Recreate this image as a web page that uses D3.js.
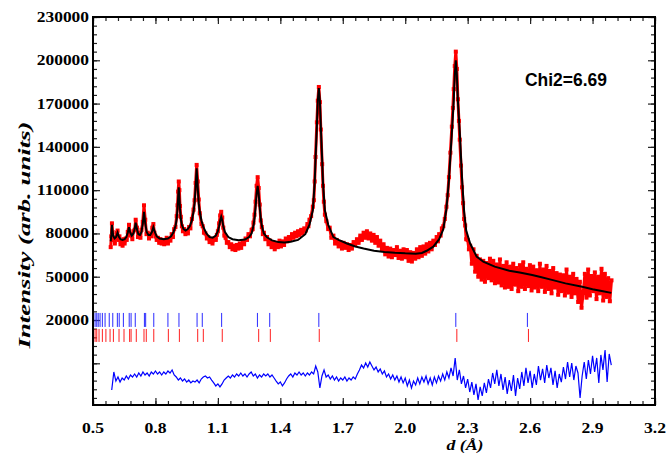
<!DOCTYPE html>
<meta charset="utf-8">
<style>
body { margin: 0; background: #fff; }
.frame { fill: none; stroke: #000; stroke-width: 2px; }
.tick line { stroke: #222; stroke-width: 1.2px; }
.lbl { font-family: "Liberation Serif", "Times New Roman", serif; font-weight: bold; font-size: 14px; fill: #000; }
.ttl { font-family: "Liberation Serif", "Times New Roman", serif; font-weight: bold; font-style: italic; fill: #000; }
.obs { fill: none; stroke: #ff0000; stroke-width: 3px; stroke-linejoin: round; }
.calc { fill: none; stroke: #000; stroke-width: 2px; }
.diff { fill: none; stroke: #0000ff; stroke-width: 1.2px; }
</style>
<body>
<script src="https://d3js.org/d3.v7.min.js"></script>
<script>

// axis ticks and labels
var xTicks = [0.5, 0.8, 1.1, 1.4, 1.7, 2.0, 2.3, 2.6, 2.9, 3.2];
var yTicks = [230000, 200000, 170000, 140000, 110000, 80000, 50000, 20000, -10000];
var yTickLabels = ["230000", "200000", "170000", "140000", "110000", "80000", "50000", "20000"];

// observed intensity [d, I]
var observed = [
  [0.585,70500],[0.588,78000],[0.591,87000],[0.594,81000],[0.600,75500],[0.605,73000],[0.610,76800],[0.615,80500],
  [0.618,82000],[0.622,75500],[0.627,78000],[0.632,72500],[0.637,75000],[0.642,71500],[0.647,76000],[0.652,73000],
  [0.657,76500],[0.662,75500],[0.667,81000],[0.673,86000],[0.678,78500],[0.684,79500],[0.689,76000],[0.694,81500],
  [0.700,82500],[0.705,89500],[0.711,84000],[0.716,77500],[0.722,80500],[0.728,77000],[0.733,82500],[0.739,88000],
  [0.745,99500],[0.751,89500],[0.757,79500],[0.763,80500],[0.769,76500],[0.775,79500],[0.780,78000],[0.785,84000],
  [0.790,86500],[0.795,80500],[0.800,78000],[0.806,75500],[0.812,77000],[0.818,73500],[0.824,76000],[0.830,73000],
  [0.836,75500],[0.842,72500],[0.848,74500],[0.854,77000],[0.860,73000],[0.866,76000],[0.872,75000],[0.878,79500],
  [0.884,77500],[0.890,83000],[0.896,84500],[0.902,92000],[0.906,99500],[0.909,109000],[0.912,116000],[0.915,110000],
  [0.918,99000],[0.922,91500],[0.927,85000],[0.932,81500],[0.938,83000],[0.944,79500],[0.950,81500],[0.956,80000],
  [0.962,84500],[0.968,83500],[0.975,90000],[0.983,96500],[0.988,103000],[0.993,115000],[0.998,127500],[1.003,116000],
  [1.008,103500],[1.013,94000],[1.021,86500],[1.027,85000],[1.033,80500],[1.040,80000],[1.047,76500],[1.054,77500],
  [1.060,74000],[1.067,76000],[1.074,73000],[1.082,76500],[1.090,75500],[1.095,79000],[1.100,81500],[1.106,87000],
  [1.111,92500],[1.116,95000],[1.121,91000],[1.126,84000],[1.131,78500],[1.137,77000],[1.143,73500],[1.150,74000],
  [1.157,70500],[1.164,72500],[1.170,69000],[1.177,71500],[1.184,68500],[1.191,72000],[1.198,69500],[1.205,73000],
  [1.212,70000],[1.219,74000],[1.226,72500],[1.233,76500],[1.240,75500],[1.247,79500],[1.254,78000],[1.262,82500],
  [1.267,83000],[1.271,87500],[1.276,93000],[1.281,102000],[1.286,113000],[1.291,119000],[1.296,111500],[1.301,100000],
  [1.306,89000],[1.311,84500],[1.316,79500],[1.321,80500],[1.328,76000],[1.336,77500],[1.343,72500],[1.351,75000],
  [1.358,70500],[1.366,74000],[1.373,69000],[1.381,73500],[1.388,70500],[1.396,75000],[1.403,71000],[1.411,74500],
  [1.418,72000],[1.426,76500],[1.433,74500],[1.441,77500],[1.448,76000],[1.456,79500],[1.463,77000],[1.471,80500],
  [1.478,78000],[1.485,81500],[1.492,79000],[1.500,82500],[1.507,80000],[1.515,83500],[1.522,82000],[1.530,86500],
  [1.535,85000],[1.540,89500],[1.548,92000],[1.556,98500],[1.561,103000],[1.565,116000],[1.569,133000],[1.5755,157000],
  [1.580,172000],[1.585,181500],[1.590,171000],[1.5945,152000],[1.601,128000],[1.605,113000],[1.609,102000],[1.614,93000],
  [1.621,88500],[1.630,83000],[1.637,84000],[1.645,77000],[1.655,78500],[1.663,73000],[1.671,75500],[1.680,71000],
  [1.688,74000],[1.696,69500],[1.704,73500],[1.712,70000],[1.720,72500],[1.728,68500],[1.736,72000],[1.744,69500],
  [1.752,74000],[1.760,72000],[1.768,76000],[1.776,73500],[1.784,78500],[1.792,75500],[1.800,80500],[1.808,77000],
  [1.816,81500],[1.824,76500],[1.832,80000],[1.840,75000],[1.848,79000],[1.856,73500],[1.864,77500],[1.872,71500],
  [1.880,75000],[1.888,68500],[1.896,72500],[1.904,65500],[1.912,70000],[1.920,64000],[1.928,69500],[1.936,63500],
  [1.944,68500],[1.952,65000],[1.960,70500],[1.968,63000],[1.976,68000],[1.984,62500],[1.992,69000],[2.000,63500],
  [2.008,68500],[2.016,61000],[2.024,67000],[2.032,60500],[2.040,66500],[2.048,62500],[2.056,69000],[2.064,63500],
  [2.072,70500],[2.080,64500],[2.088,71000],[2.096,66000],[2.103,72500],[2.111,67500],[2.119,73500],[2.127,69000],
  [2.135,75000],[2.143,72000],[2.151,77500],[2.157,74500],[2.163,79500],[2.170,78500],[2.176,83500],[2.183,85000],
  [2.190,90000],[2.198,98500],[2.204,106500],[2.210,119000],[2.217,136000],[2.224,154000],[2.229,167000],[2.233,180000],
  [2.238,196000],[2.243,206000],[2.248,194000],[2.253,173000],[2.258,158000],[2.262,145000],[2.268,127000],[2.273,112000],
  [2.278,101000],[2.283,90000],[2.288,85500],[2.293,76000],[2.300,75500],[2.306,69000],[2.312,71500],[2.320,59000],
  [2.328,69000],[2.336,53500],[2.343,64500],[2.351,50000],[2.359,62000],[2.367,48000],[2.375,61000],[2.383,46500],
  [2.391,59500],[2.399,49000],[2.407,62500],[2.415,47500],[2.423,61000],[2.431,45500],[2.439,58500],[2.447,46000],
  [2.455,62000],[2.463,44000],[2.471,57500],[2.479,42500],[2.487,60000],[2.495,43000],[2.503,57000],[2.511,41500],
  [2.519,59000],[2.527,44500],[2.535,56000],[2.543,40000],[2.551,58000],[2.559,43000],[2.567,60000],[2.575,41500],
  [2.583,55500],[2.591,43500],[2.599,58000],[2.607,40500],[2.615,57000],[2.623,42500],[2.631,54500],[2.639,40000],
  [2.647,59000],[2.655,43000],[2.663,55000],[2.671,39500],[2.679,57500],[2.687,41500],[2.695,54000],[2.703,38500],
  [2.711,56000],[2.719,42500],[2.727,52500],[2.735,37500],[2.743,51500],[2.751,40000],[2.759,51000],[2.767,37000],
  [2.775,55000],[2.783,39000],[2.791,50000],[2.799,36000],[2.807,52000],[2.815,38500],[2.823,48500],[2.831,32500],
  [2.839,46500],[2.847,28500],[2.855,38500],[2.863,52000],[2.871,35500],[2.879,55000],[2.887,37000],[2.895,50500],
  [2.903,40000],[2.911,53000],[2.919,34500],[2.927,50000],[2.935,38500],[2.943,55500],[2.951,33500],[2.959,52000],
  [2.967,36000],[2.975,49000],[2.983,33000],[2.991,47500]
];

// calculated profile [d, I]
var calculated = [
  [0.585,74500],[0.588,79000],[0.591,85900],[0.594,81500],[0.598,78000],[0.604,76500],[0.611,77500],[0.618,80500],
  [0.625,77500],[0.632,76000],[0.642,75500],[0.652,76000],[0.660,77500],[0.667,80500],[0.673,84300],[0.679,80500],
  [0.686,78500],[0.694,80000],[0.700,83000],[0.705,87400],[0.711,83000],[0.718,79500],[0.726,79000],[0.733,81000],
  [0.739,86500],[0.745,95000],[0.751,87000],[0.758,81000],[0.766,79000],[0.775,79000],[0.783,81000],[0.790,84300],
  [0.797,81000],[0.806,78000],[0.82,76500],[0.84,76000],[0.86,76500],[0.875,78000],[0.887,81000],[0.897,85500],
  [0.902,90000],[0.906,97000],[0.909,105000],[0.912,112000],[0.915,105000],[0.918,97000],[0.922,90000],[0.927,86000],
  [0.935,83000],[0.945,82000],[0.955,83000],[0.965,85000],[0.975,89000],[0.983,95000],[0.988,101000],[0.993,112000],
  [0.998,125100],[1.003,112000],[1.008,101000],[1.013,95000],[1.021,89000],[1.03,84500],[1.045,80000],[1.06,77500],
  [1.075,77000],[1.09,78500],[1.100,81500],[1.106,85000],[1.111,89000],[1.116,91600],[1.121,89000],[1.126,85000],
  [1.134,81000],[1.15,77500],[1.17,76000],[1.20,75300],[1.23,75800],[1.25,77500],[1.262,80000],[1.271,85300],
  [1.276,90200],[1.281,98000],[1.286,107500],[1.291,112900],[1.296,107500],[1.301,98000],[1.306,90200],[1.311,85300],
  [1.321,80000],[1.336,77300],[1.36,75200],[1.39,74000],[1.42,73800],[1.45,74300],[1.485,75500],[1.52,79500],
  [1.54,86000],[1.556,96000],[1.565,115000],[1.569,131000],[1.5755,154000],[1.580,172000],[1.585,180800],[1.590,172000],
  [1.5945,154000],[1.601,131000],[1.605,115000],[1.614,96000],[1.63,86000],[1.655,77500],[1.68,75500],[1.72,73000],
  [1.76,71000],[1.80,69500],[1.85,68000],[1.90,67200],[1.95,66600],[2.00,66200],[2.05,66000],[2.08,66500],
  [2.103,68000],[2.135,70800],[2.163,76000],[2.183,83000],[2.198,97000],[2.210,117000],[2.224,150000],[2.233,172000],
  [2.238,190000],[2.243,200000],[2.248,190000],[2.253,172000],[2.262,150000],[2.273,118000],[2.283,95000],[2.293,82000],
  [2.312,73000],[2.343,64000],[2.375,60400],[2.43,57000],[2.50,54200],[2.55,53000],[2.61,51200],[2.65,49800],
  [2.70,48000],[2.77,45400],[2.85,43000],[2.90,41300],[2.95,40000],[2.99,38800]
];

// difference curve, one value every 0.01 starting at d = 0.59
var diffStart = 0.59, diffStep = 0.01;
var difference = [
  -28500,-16000,-22300,-19500,-23000,-20200,-21600,-18800,-20900,-18100,
  -19500,-17400,-19500,-16700,-18800,-16000,-18100,-16700,-18800,-16000,
  -17400,-15300,-17400,-16000,-18100,-16000,-17400,-15300,-16700,-14600,
  -18100,-19500,-21600,-20200,-22300,-20900,-23000,-21600,-23600,-22300,
  -23000,-21600,-23600,-20900,-19500,-18800,-20200,-19500,-21600,-23600,
  -25700,-24300,-26400,-24300,-21600,-20200,-18800,-20200,-18100,-19500,
  -17400,-18800,-16700,-18800,-17400,-19500,-17400,-16000,-18800,-17400,
  -20200,-18100,-19500,-17400,-18800,-17400,-19500,-18100,-20200,-22300,
  -24300,-23000,-25700,-23600,-20900,-18800,-17400,-19500,-16700,-18100,
  -16000,-18100,-16700,-18800,-16700,-18100,-16000,-17400,-11900,-16000,
  -27100,-18800,-14600,-19500,-18100,-20900,-18800,-21600,-19500,-22300,
  -20200,-21600,-19500,-22300,-20200,-21600,-19500,-20900,-17400,-14600,
  -11200,-13200,-9800,-12600,-9100,-11900,-14600,-12600,-16000,-13900,
  -17400,-15300,-19500,-17400,-20900,-18100,-21600,-18800,-23000,-19500,
  -23600,-20200,-25700,-21600,-27100,-22300,-25000,-20200,-24300,-19500,
  -23000,-18800,-24300,-20200,-25000,-19500,-23600,-18800,-22300,-17400,
  -21600,-16000,-20200,-13200,-18800,-6300,-21600,-14600,-24300,-18800,
  -27100,-20900,-29900,-23000,-31900,-24300,-35400,-26400,-32600,-23600,
  -30500,-20900,-27100,-16700,-24300,-14600,-25700,-17400,-28500,-19500,
  -31200,-21600,-29200,-18100,-32600,-20200,-27800,-16000,-25700,-13200,
  -23600,-15300,-27100,-17400,-25000,-11900,-21600,-13900,-23600,-11200,
  -20200,-13200,-25000,-15300,-27100,-17400,-23000,-12600,-20900,-9100,
  -19500,-9800,-21600,-11900,-16700,-34000,-18800,-9100,-20900,-7700,
  -17400,-4900,-16000,-6300,-23600,-4200,-14600,-800,-23000,-3500,
  -11200
];

// bragg reflection positions for the two rows
var braggBlue = [0.510,0.518,0.525,0.534,0.545,0.558,0.578,0.595,0.617,0.626,0.646,0.674,0.683,0.703,
  0.747,0.753,0.792,0.860,0.913,1.000,1.025,1.118,1.290,1.349,1.585,2.243,2.587];
var braggRed = [0.510,0.518,0.529,0.545,0.562,0.582,0.598,0.625,0.649,0.676,0.683,0.708,0.745,0.756,
  0.792,0.862,0.915,1.003,1.030,1.121,1.296,1.352,1.587,2.248,2.592];
var braggBlueRow = [24900, 15200];
var braggRedRow = [13800, 4800];

// set the dimensions and margins of the graph
var margin = {top: 17, right: 13, bottom: 48, left: 93},
    width = 668 - margin.left - margin.right,
    height = 453 - margin.top - margin.bottom;

var x = d3.scaleLinear().domain([0.5, 3.2]).range([0, width]);
var y = d3.scaleLinear().domain([-38900, 230000]).range([height, 0]);

var svg = d3.select("body").append("svg")
    .attr("width", width + margin.left + margin.right)
    .attr("height", height + margin.top + margin.bottom)
  .append("g")
    .attr("transform", "translate(" + margin.left + "," + margin.top + ")");

// minor tick positions
var xMinor = d3.range(0, 46).map(function(i) { return 0.5 + i * 0.06; });
var yMinor = d3.range(0, 45).map(function(i) { return 230000 - i * 6000; });

function addAxis(axis, tr) {
  svg.append("g")
      .attr("transform", tr)
      .call(axis.tickFormat("").tickSizeOuter(0))
      .call(function(g) { g.select(".domain").remove(); });
}
addAxis(d3.axisBottom(x).tickValues(xMinor).tickSizeInner(-4), "translate(0," + height + ")");
addAxis(d3.axisBottom(x).tickValues(xTicks).tickSizeInner(-7), "translate(0," + height + ")");
addAxis(d3.axisTop(x).tickValues(xMinor).tickSizeInner(-4), "translate(0,0)");
addAxis(d3.axisTop(x).tickValues(xTicks).tickSizeInner(-7), "translate(0,0)");
addAxis(d3.axisLeft(y).tickValues(yMinor).tickSizeInner(-4), "translate(0,0)");
addAxis(d3.axisLeft(y).tickValues(yTicks).tickSizeInner(-7), "translate(0,0)");
addAxis(d3.axisRight(y).tickValues(yMinor).tickSizeInner(-4), "translate(" + width + ",0)");
addAxis(d3.axisRight(y).tickValues(yTicks).tickSizeInner(-7), "translate(" + width + ",0)");

// observed points
var line = d3.line()
    .x(function(d) { return x(d[0]); })
    .y(function(d) { return y(d[1]); });

svg.append("path").datum(observed).attr("class", "obs").attr("d", line);
svg.selectAll(".obsdot").data(observed).enter().append("rect")
    .attr("x", function(d) { return x(d[0]) - 2; })
    .attr("y", function(d) { return y(d[1]) - 2; })
    .attr("width", 4).attr("height", 4)
    .style("fill", "#ff0000");

// calculated
svg.append("path").datum(calculated).attr("class", "calc").attr("d", line);

// bragg ticks
svg.selectAll(".bb").data(braggBlue).enter().append("line")
    .attr("x1", function(d) { return x(d); }).attr("x2", function(d) { return x(d); })
    .attr("y1", y(braggBlueRow[0])).attr("y2", y(braggBlueRow[1]))
    .attr("stroke", "#2b2bff").attr("stroke-width", 1);
svg.selectAll(".br").data(braggRed).enter().append("line")
    .attr("x1", function(d) { return x(d); }).attr("x2", function(d) { return x(d); })
    .attr("y1", y(braggRedRow[0])).attr("y2", y(braggRedRow[1]))
    .attr("stroke", "#ff2020").attr("stroke-width", 1);

// difference
svg.append("path")
    .datum(difference)
    .attr("class", "diff")
    .attr("d", d3.line()
      .x(function(d, i) { return x(diffStart + i * diffStep); })
      .y(function(d) { return y(d); }));

// frame
svg.append("rect").attr("class", "frame")
    .attr("width", width).attr("height", height);

// tick labels
svg.selectAll(".xl").data(xTicks).enter().append("text")
    .attr("class", "lbl")
    .attr("x", function(d) { return x(d); })
    .attr("y", height + 28)
    .attr("text-anchor", "middle")
    .attr("textLength", 22).attr("lengthAdjust", "spacingAndGlyphs")
    .text(function(d) { return d.toFixed(1); });

svg.selectAll(".yl").data(yTickLabels).enter().append("text")
    .attr("class", "lbl")
    .attr("x", -4)
    .attr("y", function(d) { return y(+d) + 5; })
    .attr("text-anchor", "end")
    .attr("textLength", function(d) { return d.length * 8.7; }).attr("lengthAdjust", "spacingAndGlyphs")
    .text(function(d) { return d; });

// axis titles
svg.append("text").attr("class", "ttl")
    .attr("x", 372).attr("y", height + 45)
    .attr("text-anchor", "middle")
    .style("font-size", "15px")
    .attr("textLength", 37).attr("lengthAdjust", "spacingAndGlyphs")
    .text("d (Å)");

svg.append("text").attr("class", "ttl")
    .attr("transform", "translate(-63," + 218 + ") rotate(-90)")
    .attr("text-anchor", "middle")
    .style("font-size", "17px")
    .attr("textLength", 227).attr("lengthAdjust", "spacingAndGlyphs")
    .text("Intensity (arb. units)");

// chi2 note
svg.append("text")
    .attr("x", 432).attr("y", 69)
    .style("font-family", "'Liberation Sans', Arial, sans-serif")
    .style("font-weight", "bold")
    .style("font-size", "19px")
    .attr("textLength", 82).attr("lengthAdjust", "spacingAndGlyphs")
    .text("Chi2=6.69");

</script>
</body>
